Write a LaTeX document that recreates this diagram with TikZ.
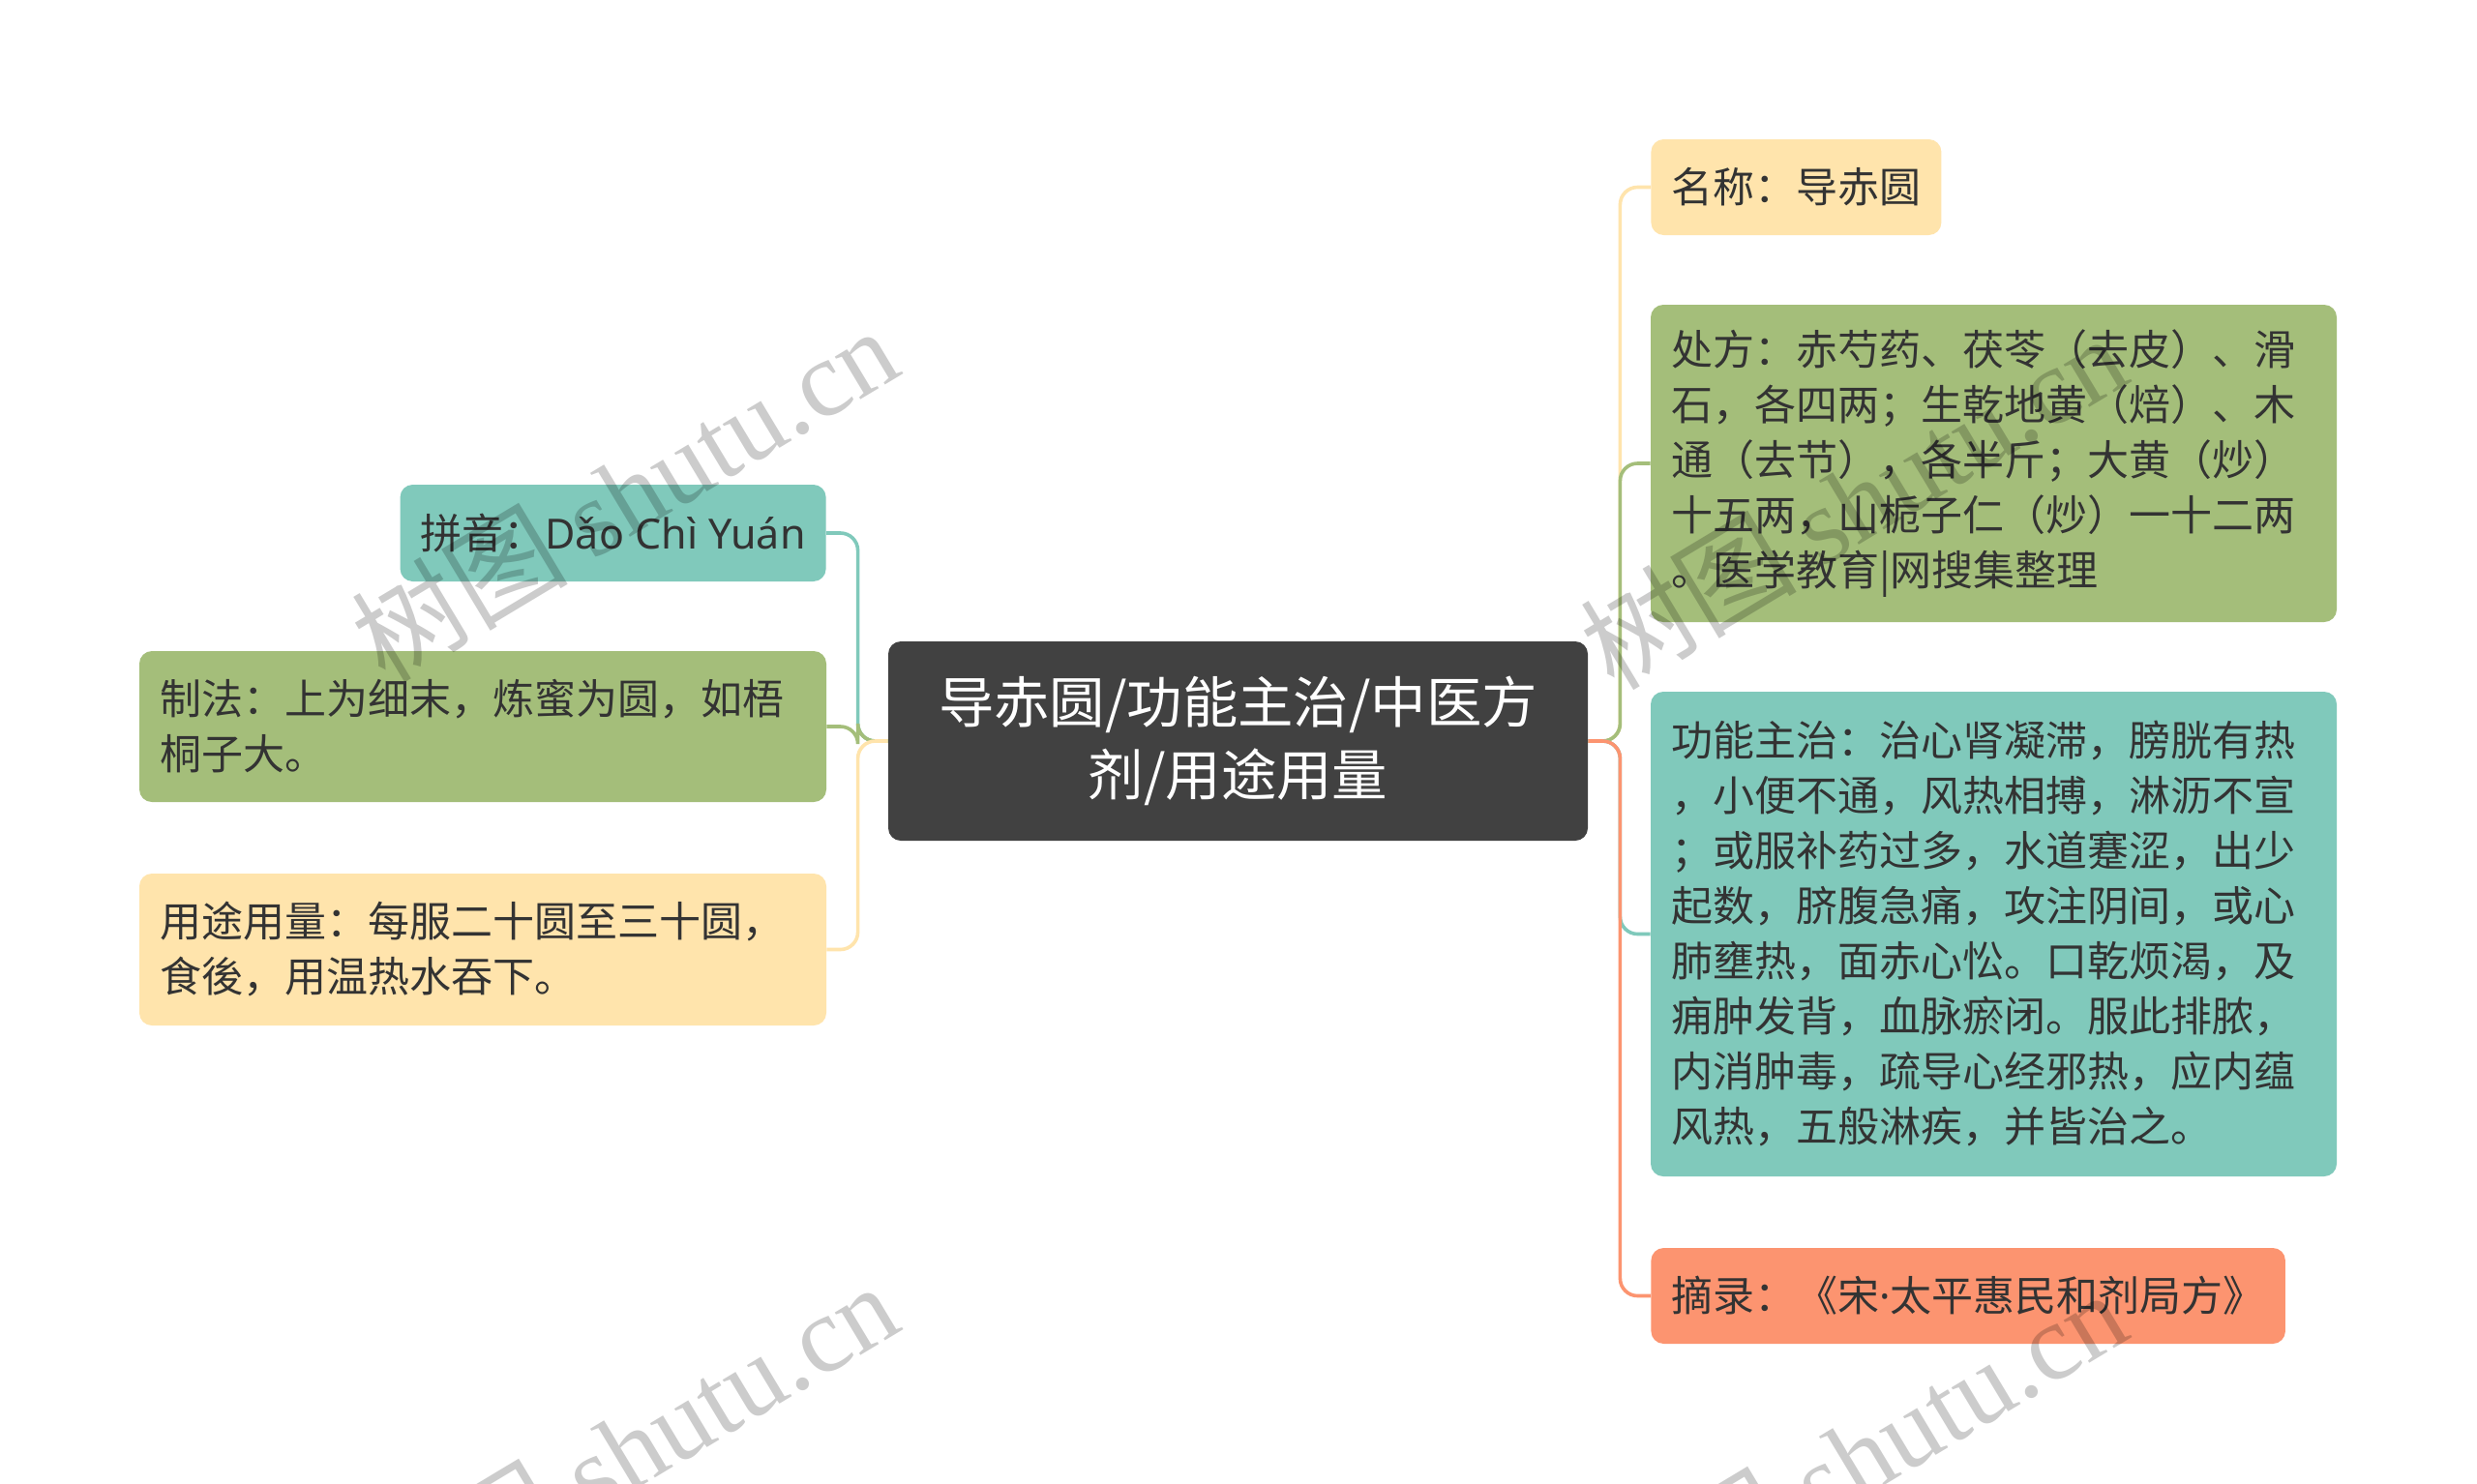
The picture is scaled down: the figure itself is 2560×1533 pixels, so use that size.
\documentclass[tikz,border=0pt]{standalone}
\usepackage{fontspec}
\setmainfont{Noto Sans CJK SC}
\newfontfamily\wmserif{Liberation Serif}
\newfontfamily\latinsans{Noto Sans}
\definecolor{cyel}{HTML}{FFE4AC}
\definecolor{cgrn}{HTML}{A4BE7A}
\definecolor{cteal}{HTML}{80C9BB}
\definecolor{corg}{HTML}{FC9470}
\definecolor{cdark}{HTML}{414141}
\definecolor{ctext}{HTML}{333333}
\tikzset{
  leaf/.style={rounded corners=6.5pt, text=ctext, font=\fontsize{21.5pt}{28.5pt}\selectfont,
    inner xsep=10.5pt, inner ysep=0pt, align=left},
  link/.style={line width=1.8pt, rounded corners=9pt},
  wmark/.style={rotate=31, text=black, opacity=0.2, font=\fontsize{56pt}{60pt}\selectfont},
}
\begin{document}
\begin{tikzpicture}[x=0.5pt,y=-0.5pt]
\useasboundingbox (0,0) rectangle (2560,1533);
\fill[white] (0,0) rectangle (2560,1533);

\node[fill=cdark, text=white, rounded corners=6.5pt, minimum width=361.5pt, minimum height=103pt,
  inner sep=0pt, align=center, font=\fontsize{28.7pt}{37.5pt}\selectfont] (root) at (1279.5,766)
  {导赤圆/功能主治/中医方\\剂/用途用量};

\node[leaf, fill=cyel, minimum height=49.5pt, anchor=west] (name) at (1706,193.5) {名称：导赤圆};
\node[leaf, fill=cgrn, minimum height=164pt, text width=333.5pt] (rx) at (2060.5,479)
  {处方：赤芍药、茯苓（去皮）、滑\\石，各四两；生乾地黄（焙）、木\\通（去节），各半斤；大黄（炒）\\十五两，山栀子仁（炒）一十二两\\。医学教育|网搜集整理};
\node[leaf, fill=cteal, minimum height=250.5pt, text width=333.5pt] (func) at (2060.5,965.5)
  {功能主治：治心肾凝滞，膀胱有热\\，小便不通，风热相搏，淋沥不宣\\；或服补药过多，水道蹇涩，出少\\起数，脐腹急痛，攻注阴间，或心\\肺壅热，面赤心忪。口乾烦渴，及\\痈肿发背，血脉瘀闭。服此排脓，\\内消肿毒，疏导心经邪热，应内蕴\\风热，五般淋疾，并皆治之。};
\node[leaf, fill=corg, minimum height=49.5pt, anchor=west] (src) at (1706,1339.5)
  {摘录：《宋{\latinsans ·}太平惠民和剂局方》};

\node[leaf, fill=cteal, minimum height=50pt, anchor=east] (py) at (854,551) {拼音：{\latinsans Dǎo Chì Yuán}};
\node[leaf, fill=cgrn, minimum height=78pt, text width=334pt] (make) at (499,751)
  {制法：上为细末，炼蜜为圆，如梧\\桐子大。};
\node[leaf, fill=cyel, minimum height=78.5pt, text width=334pt] (use) at (499,981.5)
  {用途用量：每服二十圆至三十圆，\\食後，用温热水吞下。};

\draw[link, draw=cyel] (root.east) -- ++(33,0) |- (name.west);
\draw[link, draw=cgrn] (root.east) -- ++(33,0) |- (rx.west);
\draw[link, draw=cteal] (root.east) -- ++(33,0) |- (func.west);
\draw[link, draw=corg] (root.east) -- ++(33,0) |- (src.west);
\draw[link, draw=cteal] (root.west) -- ++(-31,0) |- (py.east);
\draw[link, draw=cgrn] (root.west) -- ++(-31,0) |- (make.east);
\draw[link, draw=cyel] (root.west) -- ++(-31,0) |- (use.east);

\begin{scope}
\clip (0,0) rectangle (2560,1533);
\node[wmark] (wm1) at (645,510) {树图 {\wmserif shutu.cn}};
\node[wmark] (wm2) at (1915,518) {树图 {\wmserif shutu.cn}};
\node[wmark] (wm3) at (645,1498) {树图 {\wmserif shutu.cn}};
\node[wmark] (wm4) at (1915,1506) {树图 {\wmserif shutu.cn}};
\end{scope}
\end{tikzpicture}
\end{document}
